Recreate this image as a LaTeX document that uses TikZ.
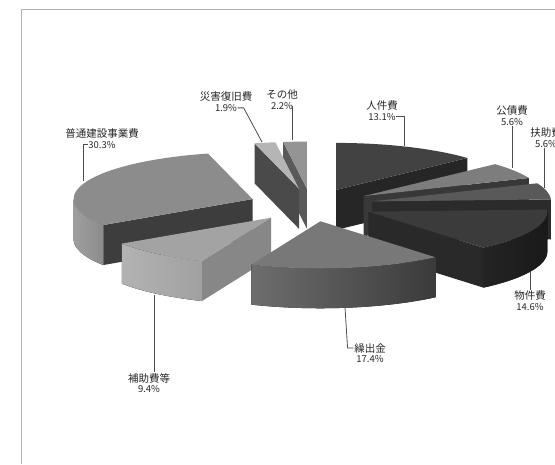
\documentclass[tikz,border=0pt]{standalone}
\usepackage{fontspec}
\setmainfont{Noto Sans CJK JP}
\usetikzlibrary{positioning}

\begin{document}
\begin{tikzpicture}[x=1pt,y=-1pt,
	lbltext/.style={font=\fontsize{10.5}{12}\selectfont, text=black!85, inner sep=0.5pt},
	lblpct/.style={font=\fontsize{9.5}{11}\selectfont, text=black!85, inner sep=0.5pt},
	leader/.style={draw=black!70, line width=0.8pt},
	pie/.style={shift={(311,205)}, x={(179pt,0pt)}, y={(0pt,47pt)}}]
	\useasboundingbox (0,0) rectangle (555,464);
	%frame
	\draw[black!30] (21,464) -- (21,9) -- (555,9);
	%slices, back to front
	\begin{scope}[pie]
	% sonota
	\begin{scope}[shift={(93.8:0.35)}]
		\fill[black!65] (0,0) -- (97.6:1) -- ++(0pt,-40pt) -- (0pt,-40pt) -- cycle;
		\fill[black!42] (0,0) -- (97.6:1) arc[start angle=97.6, end angle=90, radius=1] -- cycle;
	\end{scope}
	% saigai
	\begin{scope}[shift={(101:0.35)}]
		\fill[black!71] (0,0) -- (104.4:1) -- ++(0pt,-40pt) -- (0pt,-40pt) -- cycle;
		\fill[black!29] (0,0) -- (104.4:1) arc[start angle=104.4, end angle=97.6, radius=1] -- cycle;
	\end{scope}
	% jinken
	\begin{scope}[shift={(66.4:0.35)}]
		\fill[black!85] (0,0) -- (42.8:1) -- ++(0pt,-40pt) -- (0pt,-40pt) -- cycle;
		\fill[black!74] (0,0) -- (90:1) arc[start angle=90, end angle=42.8, radius=1] -- cycle;
	\end{scope}
	% kousai
	\begin{scope}[shift={(32.75:0.35)}]
		\fill[black!78] (0,0) -- (22.7:1) -- ++(0pt,-40pt) -- (0pt,-40pt) -- cycle;
		\fill[black!51] (0,0) -- (42.8:1) arc[start angle=42.8, end angle=22.7, radius=1] -- cycle;
	\end{scope}
	% futsuu
	\begin{scope}[shift={(158.95:0.35)}]
		\fill[black!76] (0,0) -- (213.5:1) -- ++(0pt,-40pt) -- (0pt,-40pt) -- cycle;
		\fill[left color=black!38, right color=black!45] (180:1) arc[start angle=180, end angle=213.5, radius=1]
			-- ++(0pt,-40pt) arc[start angle=213.5, end angle=180, radius=1] -- cycle;
		\fill[black!45] (0,0) -- (104.4:1) arc[start angle=104.4, end angle=213.5, radius=1] -- cycle;
	\end{scope}
	% fujo
	\begin{scope}[shift={(12.6:0.35)}]
		\fill[black!83] (0,0) -- (2.5:1) -- ++(0pt,-40pt) -- (0pt,-40pt) -- cycle;
		\fill[black!65] (0,0) -- (22.7:1) arc[start angle=22.7, end angle=2.5, radius=1] -- cycle;
	\end{scope}
	% bukken
	\begin{scope}[shift={(-23.75:0.35)}]
		\fill[black!84] (0,0) -- (-50:1) -- ++(0pt,-40pt) -- (0pt,-40pt) -- cycle;
		\fill[left color=black!86, right color=black!90] (0:1) arc[start angle=0, end angle=-50, radius=1]
			-- ++(0pt,-40pt) arc[start angle=-50, end angle=0, radius=1] -- cycle;
		\fill[black!77] (0,0) -- (2.5:1) arc[start angle=2.5, end angle=-50, radius=1] -- cycle;
	\end{scope}
	% hojo
	\begin{scope}[shift={(-129.6:0.35)}]
		\fill[black!47] (0,0) -- (-112.7:1) -- ++(0pt,-40pt) -- (0pt,-40pt) -- cycle;
		\fill[left color=black!30, right color=black!37] (-146.5:1) arc[start angle=-146.5, end angle=-112.7, radius=1]
			-- ++(0pt,-40pt) arc[start angle=-112.7, end angle=-146.5, radius=1] -- cycle;
		\fill[black!36] (0,0) -- (-112.7:1) arc[start angle=-112.7, end angle=-146.5, radius=1] -- cycle;
	\end{scope}
	% kuridashi
	\begin{scope}[shift={(-81.35:0.35)}]
		\fill[left color=black!57, right color=black!77] (-112.7:1) arc[start angle=-112.7, end angle=-50, radius=1]
			-- ++(0pt,-40pt) arc[start angle=-50, end angle=-112.7, radius=1] -- cycle;
		\fill[black!53] (0,0) -- (-50:1) arc[start angle=-50, end angle=-112.7, radius=1] -- cycle;
	\end{scope}
	\end{scope}
	%labels
	\foreach \n/\x/\y/\t/\p in {saigai/226/97/災害復旧費/1.9, sonota/282/95/その他/2.2,
		jinken/382/106/人件費/13.1, kousai/512/111/公債費/5.6, fujo/546/133/扶助費/5.6,
		bukken/530/296/物件費/14.6, kuridashi/370/348/繰出金/17.4, hojo/149/378/補助費等/9.4,
		futsuu/102/134/普通建設事業費/30.3}
	{
		\node[lbltext] (\n) at (\x,\y) {\t};
		\node[lblpct, below=1pt of \n] (p\n) {\p\%};
	}
	%leaders
	\coordinate (rsaigai) at (262,142);
	\coordinate (rsonota) at (292,140);
	\coordinate (rjinken) at (404,146);
	\coordinate (rkousai) at (512,168);
	\coordinate (rfujo) at (544,188);
	\coordinate (rbukken) at (530,272);
	\coordinate (rkuridashi) at (345,307);
	\coordinate (rhojo) at (154,295);
	\coordinate (rfutsuu) at (83,181);
	\draw[leader] (psaigai.east) -- ++(6,0) -- (rsaigai);
	\draw[leader] (rsonota |- psonota.center) -- (rsonota);
	\draw[leader] (pjinken.east) -| (rjinken);
	\draw[leader] (pkousai.south) -- (rkousai);
	\draw[leader] (rfujo |- pfujo.south) -- (rfujo);
	\draw[leader] (rbukken) -- (rbukken |- bukken.north);
	\draw[leader] (kuridashi.west) -- ++(-6,0) -- (rkuridashi);
	\draw[leader] (rhojo) -- (rhojo |- hojo.north);
	\draw[leader] (pfutsuu.west) -| (rfutsuu);
\end{tikzpicture}
\end{document}
